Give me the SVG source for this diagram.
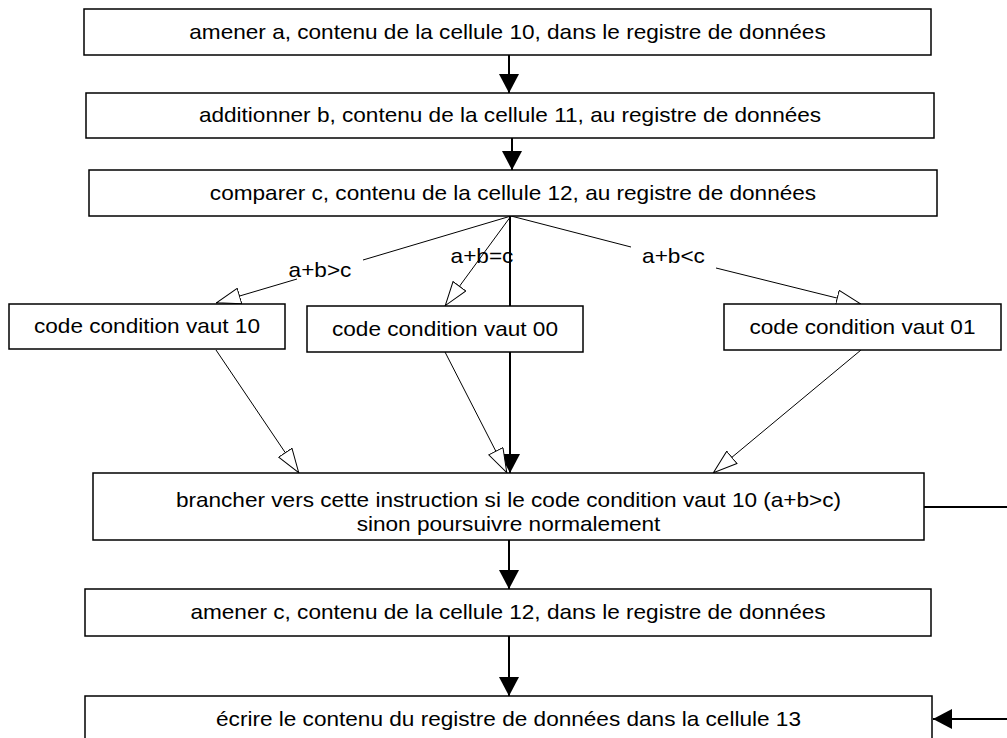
<svg xmlns="http://www.w3.org/2000/svg" width="1007" height="738" viewBox="0 0 1007 738">
<style>
.box{fill:#fff;stroke:#000;stroke-width:1.5}
.t{font-family:"Liberation Sans",Arial,sans-serif;font-size:21px;fill:#000;text-anchor:middle}
.thin{fill:none;stroke:#000;stroke-width:1}
.thick{fill:none;stroke:#000;stroke-width:2}
</style>
<defs>
<marker id="hollow" viewBox="0 0 25 17" refX="25" refY="8.5" markerWidth="25" markerHeight="17" markerUnits="userSpaceOnUse" orient="auto">
<path d="M0.5,0.5 L24.5,8.5 L0.5,16.5 z" fill="#fff" stroke="#000" stroke-width="1"/>
</marker>
<marker id="solid" viewBox="0 0 19 20" refX="19" refY="10" markerWidth="19" markerHeight="20" markerUnits="userSpaceOnUse" orient="auto">
<path d="M0,0 L19,10 L0,20 z" fill="#000"/>
</marker>
</defs>
<g id="connectors">
<line class="thick" x1="509" y1="55" x2="509" y2="93" marker-end="url(#solid)"/>
<line class="thick" x1="512" y1="138" x2="512" y2="170" marker-end="url(#solid)"/>
<line class="thick" x1="510" y1="216" x2="510" y2="473" marker-end="url(#solid)"/>
<line class="thin" x1="511" y1="216" x2="363" y2="260"/>
<line class="thin" x1="297" y1="279" x2="216" y2="303" marker-end="url(#hollow)"/>
<line class="thin" x1="511" y1="216" x2="445" y2="306" marker-end="url(#hollow)"/>
<line class="thin" x1="511" y1="216" x2="631" y2="247"/>
<line class="thin" x1="716" y1="268" x2="861" y2="304" marker-end="url(#hollow)"/>
<line class="thin" x1="216" y1="350" x2="299" y2="473" marker-end="url(#hollow)"/>
<line class="thin" x1="445" y1="352" x2="507" y2="473" marker-end="url(#hollow)"/>
<line class="thin" x1="861" y1="350" x2="713" y2="473" marker-end="url(#hollow)"/>
<line class="thick" x1="509" y1="540" x2="509" y2="589" marker-end="url(#solid)"/>
<line class="thick" x1="509" y1="636" x2="509" y2="696" marker-end="url(#solid)"/>
<line class="thick" x1="924" y1="507" x2="1007" y2="507"/>
<line class="thick" x1="1007" y1="719" x2="933" y2="719" marker-end="url(#solid)"/>
<text class="t" transform="translate(320,277) scale(1.076,1)">a+b&gt;c</text>
<text class="t" transform="translate(482,263) scale(1.076,1)">a+b=c</text>
<text class="t" transform="translate(673.5,263) scale(1.076,1)">a+b&lt;c</text>
</g>
<g id="n1"><rect class="box" x="84" y="9" width="847" height="46"/><text class="t" transform="translate(507.5,38.5) scale(1.076,1)">amener a, contenu de la cellule 10, dans le registre de données</text></g>
<g id="n2"><rect class="box" x="86" y="93" width="848" height="45"/><text class="t" transform="translate(510,122) scale(1.076,1)">additionner b, contenu de la cellule 11, au registre de données</text></g>
<g id="n3"><rect class="box" x="89" y="170" width="848" height="46"/><text class="t" transform="translate(513,199.5) scale(1.076,1)">comparer c, contenu de la cellule 12, au registre de données</text></g>
<g id="n4"><rect class="box" x="9" y="304" width="276" height="45"/><text class="t" transform="translate(147,333) scale(1.076,1)">code condition vaut 10</text></g>
<g id="n5"><rect class="box" x="307" y="306" width="276" height="46"/><text class="t" transform="translate(445,335.5) scale(1.076,1)">code condition vaut 00</text></g>
<g id="n6"><rect class="box" x="724" y="304" width="277" height="46"/><text class="t" transform="translate(862.5,333.5) scale(1.076,1)">code condition vaut 01</text></g>
<g id="n7"><rect class="box" x="93" y="473" width="831" height="67"/><text class="t" transform="translate(508.5,507) scale(1.076,1)">brancher vers cette instruction si le code condition vaut 10 (a+b&gt;c)</text><text class="t" transform="translate(508.5,530.5) scale(1.076,1)">sinon poursuivre normalement</text></g>
<g id="n8"><rect class="box" x="85" y="589" width="846" height="47"/><text class="t" transform="translate(508,619) scale(1.076,1)">amener c, contenu de la cellule 12, dans le registre de données</text></g>
<g id="n9"><rect class="box" x="85" y="696" width="847" height="46"/><text class="t" transform="translate(508.5,725.5) scale(1.076,1)">écrire le contenu du registre de données dans la cellule 13</text></g>
</svg>
